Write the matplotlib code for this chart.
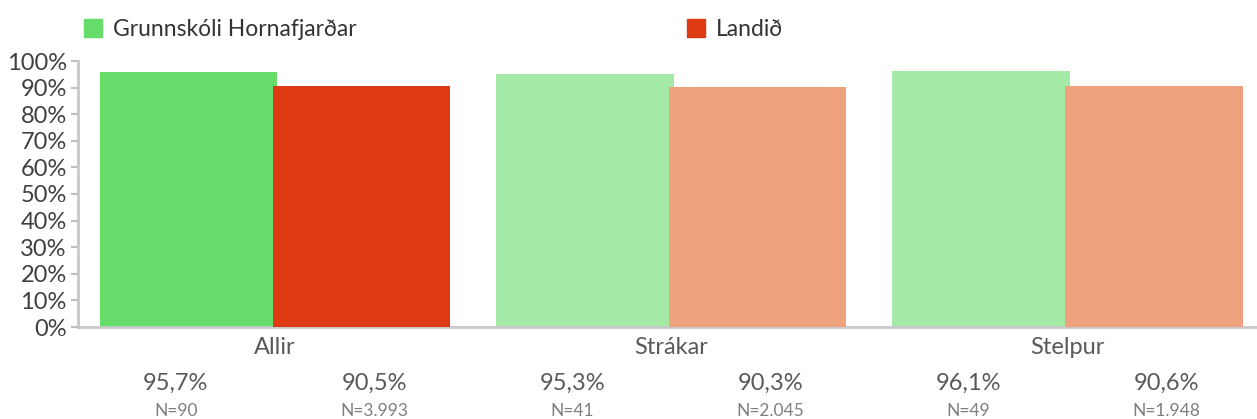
import matplotlib
matplotlib.use("Agg")
import matplotlib.pyplot as plt
from matplotlib.patches import Patch
import numpy as np

plt.rcParams["font.family"] = ["Lato", "DejaVu Sans"]

categories = ["Allir", "Strákar", "Stelpur"]
school_pct = [95.7, 95.3, 96.1]
landid_pct = [90.5, 90.3, 90.6]
school_n = [90, 41, 49]
landid_n = [3993, 2045, 1948]
series_names = ["Grunnskóli Hornafjarðar", "Landið"]

school_colors = ["#66dd6a", "#a5e9a7", "#a5e9a7"]
landid_colors = ["#de3a14", "#eea27e", "#eea27e"]


def pct_label(v):
    return f"{v:.1f}%".replace(".", ",")


def n_label(n):
    return "N=" + f"{n:,}".replace(",", ".")


def main():
    fig = plt.figure(figsize=(12.57, 4.19), dpi=100)
    ax = fig.add_axes([78 / 1257, 1 - 327 / 419, 1 - 78 / 1257, 266 / 419])

    x = np.arange(len(categories))
    width = 0.448
    off = 0.218
    ax.bar(x - off, np.array(school_pct) / 100, width, color=school_colors, zorder=2)
    ax.bar(x + off, np.array(landid_pct) / 100, width, color=landid_colors, zorder=3)

    ax.set_ylim(0, 1)
    ax.set_xlim(-0.497, 2.478)
    ax.set_yticks(np.arange(0, 1.01, 0.1))
    ax.set_yticklabels([f"{int(round(t * 100))}%" for t in np.arange(0, 1.01, 0.1)])
    ax.tick_params(axis="y", labelsize=17, labelcolor="#404040", color="#bfbfbf",
                   length=5, width=1.5, pad=3)
    ax.set_xticks(x)
    ax.set_xticklabels(categories)
    ax.tick_params(axis="x", labelsize=17, labelcolor="#595959", length=0, pad=7)

    for s in ["top", "right"]:
        ax.spines[s].set_visible(False)
    for s in ["left", "bottom"]:
        ax.spines[s].set_color("#c8c8c8")
        ax.spines[s].set_linewidth(2)

    tr = ax.get_xaxis_transform()
    for i in range(len(categories)):
        ax.text(x[i] - 0.25, -0.21, pct_label(school_pct[i]), transform=tr,
                ha="center", va="center", fontsize=17, color="#595959")
        ax.text(x[i] + 0.25, -0.21, pct_label(landid_pct[i]), transform=tr,
                ha="center", va="center", fontsize=17, color="#595959")
        ax.text(x[i] - 0.25, -0.315, n_label(school_n[i]), transform=tr,
                ha="center", va="center", fontsize=12.5, color="#7f7f7f")
        ax.text(x[i] + 0.25, -0.315, n_label(landid_n[i]), transform=tr,
                ha="center", va="center", fontsize=12.5, color="#7f7f7f")

    handles = [Patch(color=school_colors[0]), Patch(color=landid_colors[0])]
    fig.legend(handles, series_names, loc="upper left",
               bbox_to_anchor=(68 / 1257, 1 - 3 / 419), ncol=2, frameon=False,
               fontsize=16.5, labelcolor="#333333", handlelength=0.78,
               handleheight=0.78, handletextpad=0.5, columnspacing=14.4,
               borderaxespad=0.3)

    fig.savefig("out.png", dpi=100)


if __name__ == "__main__":
    main()
